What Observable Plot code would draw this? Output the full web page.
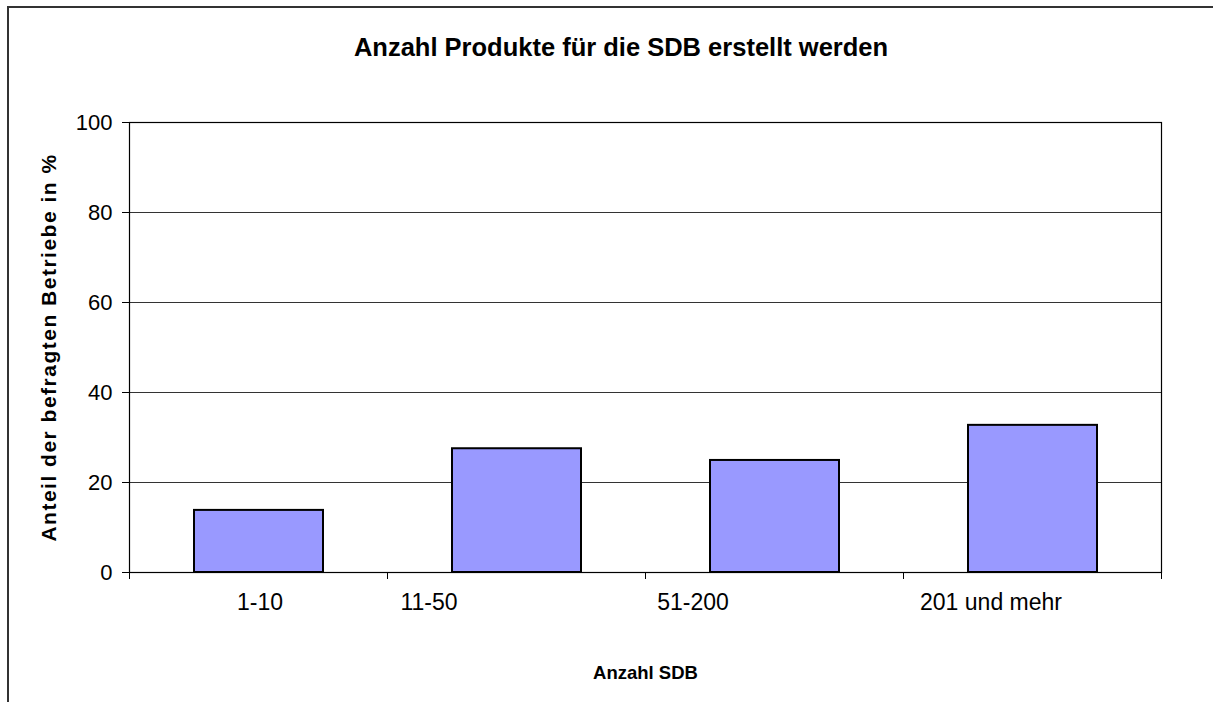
<!DOCTYPE html>
<html>
<head>
<meta charset="utf-8">
<script src="https://cdn.jsdelivr.net/npm/d3@7"></script>
<script src="https://cdn.jsdelivr.net/npm/@observablehq/plot@0.6"></script>
<style>
  html, body { margin: 0; padding: 0; background: #fff; }
  body { font-family: Arial, "Liberation Sans", sans-serif; }
  #wrap { position: relative; width: 1213px; height: 702px; overflow: hidden; background: #fff; }
  #border { position: absolute; left: 7px; top: 6px; width: 1220px; height: 760px; border: 2px solid #333; box-sizing: border-box; pointer-events: none; }
  #title { position: relative; width: 1242px; height: 80px; line-height: 94px; text-align: center; font-weight: bold; font-size: 25.5px; color: #000; }
  #chart svg { display: block; }
</style>
</head>
<body>
<div id="wrap">
  <div id="border"></div>
  <div id="title">Anzahl Produkte für die SDB erstellt werden</div>
  <div id="chart"></div>
</div>
<script>
// ---- data ----
const categories = ["1-10", "11-50", "51-200", "201 und mehr"];
const shares = [13.8, 27.5, 24.9, 32.7];
const yTicks = [0, 20, 40, 60, 80, 100];
const gridValues = [20, 40, 60, 80];
const yTitle = "Anteil der befragten Betriebe in %";
const xTitle = "Anzahl SDB";

const rows = categories.map((c, i) => ({category: c, share: shares[i]}));

// layout: horizontal offsets of category labels as drawn in the original
const labelShift = [1, -88, -82, -42];

// category boundary tick marks, computed from the band scale
function boundaryTicks(index, scales, values, dims) {
  const x = scales.x;
  const bw = x.bandwidth();
  const step = typeof x.step === "function" ? x.step() : bw / 0.5;
  const gap = (step - bw) / 2;
  const base = dims.height - dims.marginBottom;
  const g = d3.create("svg:g").attr("stroke", "#000").attr("stroke-width", 1);
  const xs = [x(categories[0]) - gap, ...categories.map(c => x(c) + bw + gap)];
  for (const bx of xs) {
    g.append("line").attr("x1", bx).attr("x2", bx).attr("y1", base).attr("y2", base + 7);
  }
  return g.node();
}

const chart = Plot.plot({
  width: 1213,
  height: 622,
  marginTop: 42,
  marginLeft: 129,
  marginRight: 52,
  marginBottom: 130,
  style: {fontFamily: "Arial, 'Liberation Sans', sans-serif", color: "#000", background: "transparent", overflow: "visible"},
  x: {domain: categories, paddingInner: 0.5, paddingOuter: 0.25, align: 0.5, axis: null},
  y: {domain: [0, 100]},
  marks: [
    Plot.ruleY(gridValues, {stroke: "#333", strokeWidth: 1}),
    Plot.barY(rows, {x: "category", y: "share", fill: "#9999ff", stroke: "#000", strokeWidth: 2}),
    Plot.frame({stroke: "#000", strokeWidth: 1.2}),
    Plot.axisY({ticks: yTicks, tickSize: 7, tickPadding: 10, fontSize: 22, label: null, stroke: "#000"}),
    boundaryTicks,
    ...categories.map((c, i) => Plot.text([c], {
      x: d => d, text: d => d, frameAnchor: "bottom", dy: 37, dx: labelShift[i], fontSize: 23, fill: "#000"
    })),
    Plot.text([xTitle], {text: d => d, frameAnchor: "bottom", dy: 106, fontSize: 18.5, fontWeight: "bold", fill: "#000"}),
    Plot.text([yTitle], {text: d => d, frameAnchor: "left", textAnchor: "middle", dx: -80, rotate: -90, fontSize: 21, fontWeight: "bold", fill: "#000"})
  ]
});
chart.querySelectorAll("text").forEach(t => {
  if (t.textContent === yTitle) t.setAttribute("letter-spacing", "1.5");
});
document.getElementById("chart").appendChild(chart);
</script>
</body>
</html>
